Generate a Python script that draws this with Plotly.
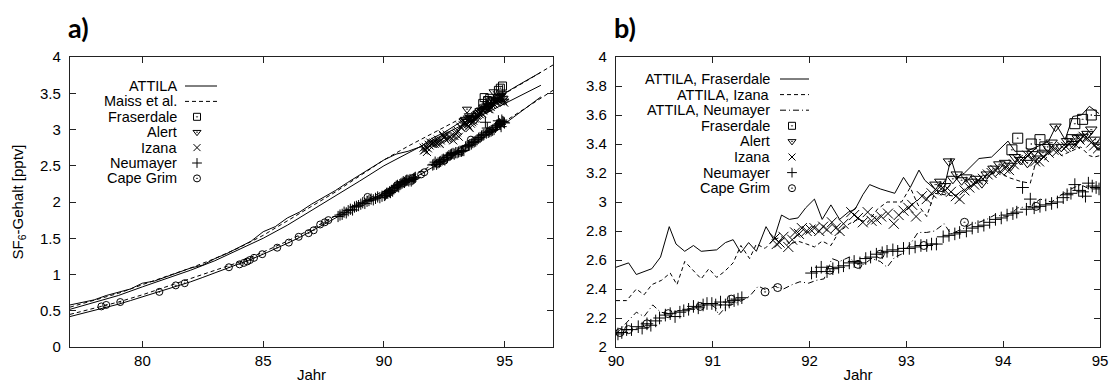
import plotly.graph_objects as go

# ---------------- Panel a: model curves ----------------
attila_nh_yr = [77.0, 77.5, 78.0, 78.5, 79.0, 79.5, 80.0, 80.5, 81.0, 81.5, 82.0, 82.5, 83.0, 83.5,
                84.0, 84.5, 85.0, 85.5, 86.0, 86.5, 87.0, 87.5, 88.0, 88.5, 89.0, 89.5, 90.0, 90.5,
                91.0, 91.5, 92.0, 92.5, 93.0, 93.5, 94.0, 94.5, 95.0, 95.5, 96.0, 96.5]
attila_nh_val = [0.58, 0.62, 0.65, 0.71, 0.76, 0.80, 0.88, 0.91, 0.97, 1.03, 1.09, 1.13, 1.22, 1.29,
                 1.38, 1.46, 1.59, 1.66, 1.78, 1.86, 1.97, 2.06, 2.16, 2.27, 2.37, 2.47, 2.58, 2.66,
                 2.70, 2.76, 2.88, 2.96, 3.07, 3.17, 3.28, 3.38, 3.50, 3.60, 3.70, 3.79]
maiss_nh_yr = [77, 78, 79, 80, 81, 82, 83, 84, 85, 86, 87, 88, 89, 90, 91, 92, 93, 94, 95, 96, 97]
maiss_nh_val = [0.55, 0.64, 0.74, 0.86, 0.97, 1.09, 1.22, 1.37, 1.54, 1.74, 1.94, 2.14, 2.36, 2.58,
                2.77, 2.94, 3.12, 3.30, 3.49, 3.69, 3.89]
attila_mid_yr = [77, 78, 79, 80, 81, 82, 83, 84, 85, 86, 87, 88, 89, 90, 91, 92, 93, 94, 95, 96, 96.5]
attila_mid_val = [0.52, 0.61, 0.71, 0.83, 0.94, 1.06, 1.19, 1.34, 1.50, 1.68, 1.88, 2.08, 2.29, 2.50,
                  2.68, 2.85, 3.02, 3.19, 3.36, 3.53, 3.61]
maiss_sh_yr = [77, 78, 79, 80, 81, 82, 83, 84, 85, 86, 87, 88, 89, 90, 91, 92, 93, 94, 95, 96, 97]
maiss_sh_val = [0.45, 0.53, 0.62, 0.72, 0.83, 0.94, 1.05, 1.17, 1.31, 1.46, 1.63, 1.81, 1.99, 2.15,
                2.32, 2.51, 2.70, 2.90, 3.11, 3.32, 3.54]
attila_sh_yr = [77.0, 77.5, 78.0, 78.5, 79.0, 79.5, 80.0, 80.5, 81.0, 81.5, 82.0, 82.5, 83.0, 83.5,
                84.0, 84.5, 85.0, 85.5, 86.0, 86.5, 87.0, 87.5, 88.0, 88.5, 89.0, 89.5, 90.0, 90.5,
                91.0, 91.5, 92.0, 92.5, 93.0, 93.5, 94.0, 94.5, 95.0, 95.5, 96.0, 96.5]
attila_sh_val = [0.42, 0.46, 0.50, 0.55, 0.59, 0.64, 0.69, 0.74, 0.79, 0.85, 0.90, 0.96, 1.02, 1.08,
                 1.14, 1.21, 1.28, 1.35, 1.43, 1.51, 1.60, 1.68, 1.78, 1.87, 1.97, 2.04, 2.12, 2.20,
                 2.28, 2.38, 2.48, 2.57, 2.66, 2.76, 2.87, 2.97, 3.08, 3.20, 3.32, 3.45]

# ---------------- Panel b: model curves ----------------
attila_fra_yr = [90.0, 90.13, 90.21, 90.37, 90.46, 90.55, 90.62, 90.71, 90.80, 90.88, 91.04, 91.13,
                 91.21, 91.29, 91.37, 91.45, 91.55, 91.63, 91.71, 91.79, 91.88, 91.96, 92.05, 92.13,
                 92.22, 92.31, 92.40, 92.47, 92.55, 92.62, 92.73, 92.88, 92.97, 93.04, 93.13, 93.19,
                 93.31, 93.38, 93.46, 93.52, 93.60, 93.75, 93.88, 94.05, 94.12, 94.24, 94.38, 94.47,
                 94.55, 94.64, 94.72, 94.81, 94.89, 94.99]
attila_fra_val = [2.55, 2.58, 2.50, 2.54, 2.62, 2.83, 2.71, 2.66, 2.70, 2.66, 2.67, 2.72,
                  2.74, 2.65, 2.72, 2.66, 2.83, 2.74, 2.91, 2.88, 2.89, 2.96, 3.02, 2.88,
                  2.98, 2.88, 2.93, 2.95, 3.05, 3.12, 3.09, 3.06, 3.17, 3.10, 3.22, 3.15,
                  3.08, 3.07, 3.30, 3.17, 3.20, 3.30, 3.31, 3.42, 3.35, 3.35, 3.39, 3.42,
                  3.53, 3.43, 3.59, 3.60, 3.66, 3.61]
attila_iza_yr = [90.0, 90.11, 90.21, 90.29, 90.37, 90.47, 90.56, 90.63, 90.71, 90.80, 90.88, 90.96,
                 91.04, 91.12, 91.21, 91.29, 91.38, 91.45, 91.54, 91.63, 91.71, 91.80, 91.88, 91.97,
                 92.05, 92.13, 92.22, 92.30, 92.41, 92.50, 92.60, 92.70, 92.80, 92.95, 93.04, 93.12,
                 93.21, 93.29, 93.40, 93.50, 93.60, 93.70, 93.80, 93.96, 94.05, 94.19, 94.28, 94.35,
                 94.43, 94.53, 94.60, 94.70, 94.80, 94.89, 94.94, 95.0]
attila_iza_val = [2.32, 2.32, 2.40, 2.36, 2.43, 2.46, 2.51, 2.43, 2.59, 2.53, 2.47, 2.54,
                  2.48, 2.52, 2.58, 2.70, 2.61, 2.71, 2.68, 2.74, 2.76, 2.71, 2.73, 2.71,
                  2.69, 2.73, 2.70, 2.79, 2.85, 2.88, 2.86, 2.95, 3.00, 3.00, 3.10, 2.98,
                  2.90, 3.06, 3.05, 3.04, 3.09, 3.12, 3.18, 3.21, 3.17, 3.14, 3.13, 3.31,
                  3.29, 3.39, 3.32, 3.35, 3.38, 3.32, 3.31, 3.32]
attila_neu_yr = [90.0, 90.11, 90.21, 90.29, 90.38, 90.46, 90.56, 90.64, 90.72, 90.80, 90.88, 90.96,
                 91.03, 91.06, 91.14, 91.23, 91.30, 91.38, 91.47, 91.56, 91.64, 91.73, 91.82, 91.90,
                 91.99, 92.07, 92.15, 92.23, 92.31, 92.41, 92.47, 92.56, 92.64, 92.73, 92.80, 92.88,
                 92.95, 93.04, 93.12, 93.21, 93.29, 93.39, 93.46, 93.53, 93.60, 93.68, 93.75, 93.83,
                 93.91, 94.05, 94.15, 94.29, 94.38, 94.50, 94.60, 94.70, 94.80, 94.89, 95.0]
attila_neu_val = [2.09, 2.17, 2.24, 2.21, 2.29, 2.24, 2.23, 2.25, 2.26, 2.27, 2.28, 2.30,
                  2.27, 2.22, 2.28, 2.30, 2.32, 2.35, 2.42, 2.39, 2.42, 2.40, 2.43, 2.45,
                  2.44, 2.46, 2.47, 2.61, 2.59, 2.62, 2.58, 2.57, 2.61, 2.59, 2.55, 2.62,
                  2.64, 2.71, 2.79, 2.79, 2.80, 2.85, 2.78, 2.80, 2.82, 2.85, 2.86, 2.88,
                  2.91, 2.90, 2.96, 2.97, 3.02, 3.00, 3.05, 3.09, 3.12, 3.09, 3.10]

# ---------------- Observations ----------------
fraserdale_yr = [94.09, 94.15, 94.29, 94.38, 94.43, 94.71, 94.74, 94.82, 94.91]
fraserdale_val = [3.36, 3.44, 3.40, 3.43, 3.38, 3.43, 3.54, 3.57, 3.60]

alert_yr = [93.30, 93.35, 93.40, 93.44, 93.48, 93.52, 93.57, 93.62, 93.67, 93.72, 93.78, 93.83,
            93.90, 93.96, 94.02, 94.08, 94.12, 94.18, 94.25, 94.30, 94.36, 94.41, 94.46, 94.50,
            94.54, 94.60, 94.66, 94.72, 94.77, 94.82, 94.87, 94.91, 94.95, 94.98]
alert_val = [3.12, 3.14, 3.11, 3.28, 3.16, 3.19, 3.15, 3.17, 3.14, 3.16, 3.13, 3.19,
             3.23, 3.26, 3.27, 3.25, 3.31, 3.29, 3.27, 3.33, 3.30, 3.34, 3.38, 3.41,
             3.52, 3.38, 3.42, 3.40, 3.44, 3.45, 3.47, 3.50, 3.43, 3.39]

izana_yr = [91.64, 91.66, 91.69, 91.73, 91.78, 91.82, 91.85, 91.89, 91.92, 91.97, 92.01, 92.05,
            92.10, 92.14, 92.18, 92.23, 92.27, 92.31, 92.35, 92.43, 92.46, 92.50, 92.55, 92.60,
            92.64, 92.69, 92.74, 92.81, 92.87, 92.92, 92.97, 93.02, 93.06, 93.10, 93.16, 93.21,
            93.26, 93.31, 93.36, 93.40, 93.46, 93.51, 93.55, 93.60, 93.65, 93.70, 93.74, 93.79,
            93.84, 93.88, 93.92, 93.97, 94.02, 94.06, 94.11, 94.15, 94.20, 94.25, 94.29, 94.33,
            94.37, 94.42, 94.47, 94.52, 94.56, 94.61, 94.65, 94.70, 94.74, 94.79, 94.83, 94.87,
            94.91, 94.94, 94.98]
izana_val = [2.75, 2.71, 2.72, 2.76, 2.69, 2.74, 2.79, 2.78, 2.82, 2.80, 2.81, 2.82,
             2.80, 2.83, 2.81, 2.86, 2.82, 2.80, 2.85, 2.93, 2.91, 2.89, 2.86, 2.93,
             2.87, 2.88, 2.90, 2.92, 2.85, 2.91, 2.94, 2.96, 2.98, 2.90, 3.04, 3.02,
             3.06, 3.08, 3.09, 3.08, 3.07, 3.04, 3.02, 3.08, 3.10, 3.12, 3.15, 3.16,
             3.19, 3.20, 3.22, 3.21, 3.23, 3.22, 3.26, 3.29, 3.30, 3.32, 3.34, 3.28,
             3.28, 3.31, 3.34, 3.36, 3.35, 3.38, 3.38, 3.41, 3.40, 3.43, 3.45, 3.44,
             3.41, 3.39, 3.37]

neumayer_early_yr = [88.10, 88.18, 88.27, 88.35, 88.44, 88.52, 88.61, 88.70, 88.78, 88.86, 88.95,
                     89.04, 89.12, 89.21, 89.30, 89.38, 89.47, 89.56, 89.65, 89.74, 89.83, 89.92]
neumayer_early_val = [1.80, 1.82, 1.83, 1.86, 1.85, 1.88, 1.90, 1.89, 1.93, 1.94, 1.95,
                      1.97, 1.99, 1.98, 2.01, 2.02, 2.04, 2.03, 2.05, 2.07, 2.06, 2.08]
neumayer_yr = [90.02, 90.06, 90.11, 90.16, 90.23, 90.27, 90.32, 90.36, 90.41, 90.45, 90.51, 90.56,
               90.61, 90.66, 90.70, 90.75, 90.80, 90.85, 90.90, 90.94, 90.99, 91.03, 91.08, 91.13,
               91.17, 91.22, 91.26, 91.30,
               92.02, 92.07, 92.12, 92.18, 92.24, 92.30, 92.35, 92.41, 92.46, 92.52, 92.58, 92.63,
               92.69, 92.75, 92.80, 92.86, 92.91, 92.97, 93.03, 93.09, 93.15, 93.21, 93.26, 93.31,
               93.38, 93.44, 93.50, 93.55, 93.62, 93.68, 93.74, 93.80, 93.86, 93.92, 93.98, 94.04,
               94.10, 94.14, 94.20, 94.24, 94.28, 94.32, 94.38, 94.44, 94.50, 94.56, 94.62, 94.66,
               94.70, 94.74, 94.78, 94.82, 94.85, 94.88, 94.92, 94.96, 94.99]
neumayer_val = [2.09, 2.10, 2.12, 2.12, 2.14, 2.13, 2.16, 2.15, 2.18, 2.20, 2.22, 2.23,
                2.21, 2.24, 2.25, 2.26, 2.28, 2.27, 2.29, 2.30, 2.30, 2.29, 2.31, 2.29,
                2.31, 2.32, 2.33, 2.34,
                2.51, 2.52, 2.55, 2.52, 2.54, 2.55, 2.56, 2.58, 2.59, 2.58, 2.61, 2.62,
                2.64, 2.65, 2.66, 2.67, 2.66, 2.68, 2.68, 2.69, 2.70, 2.70, 2.71, 2.71,
                2.76, 2.77, 2.78, 2.79, 2.80, 2.82, 2.83, 2.84, 2.86, 2.88, 2.89, 2.91,
                2.92, 2.93, 3.10, 2.95, 3.02, 2.96, 2.97, 2.98, 2.99, 3.00, 3.03, 3.05,
                3.06, 3.12, 3.08, 3.07, 3.04, 3.13, 3.11, 3.10, 3.09]

capegrim_early_yr = [78.30, 78.50, 79.08, 80.70, 81.38, 81.75, 83.58, 84.02, 84.20, 84.34, 84.45,
                     84.62, 84.96, 85.58, 86.06, 86.47, 86.88, 87.09, 87.36, 87.55, 87.70, 89.32]
capegrim_early_val = [0.56, 0.58, 0.62, 0.76, 0.85, 0.88, 1.10, 1.14, 1.16, 1.18, 1.20,
                      1.23, 1.28, 1.37, 1.44, 1.52, 1.57, 1.61, 1.69, 1.72, 1.75, 2.07]
capegrim_yr = [90.04, 90.13, 90.32, 90.54, 90.87, 91.19, 91.54, 91.67, 92.21, 92.50, 92.73,
               93.18, 93.60, 94.34]
capegrim_val = [2.10, 2.12, 2.16, 2.23, 2.28, 2.33, 2.38, 2.41, 2.53, 2.57, 2.64,
                2.70, 2.86, 2.97]

# ---------------- Tick labels ----------------
xticks_a = [80, 85, 90, 95]
yticks_a = [0, 0.5, 1, 1.5, 2, 2.5, 3, 3.5, 4]
xticks_b = [90, 91, 92, 93, 94, 95]
yticks_b = [2, 2.2, 2.4, 2.6, 2.8, 3, 3.2, 3.4, 3.6, 3.8, 4]

legend_a = ["ATTILA", "Maiss et al.", "Fraserdale", "Alert", "Izana", "Neumayer", "Cape Grim"]
legend_b = ["ATTILA, Fraserdale", "ATTILA, Izana", "ATTILA, Neumayer", "Fraserdale", "Alert",
            "Izana", "Neumayer", "Cape Grim"]

# ---------------- Styling ----------------
FONT = "Liberation Sans"
BLACK = "black"
DASH = "4px,3px"
DASHDOT = "6px,3px,1px,3px"
SYM = {"Fraserdale": "square-open-dot", "Alert": "triangle-down-open-dot",
       "Izana": "x-thin-open", "Neumayer": "cross-thin-open", "Cape Grim": "circle-open-dot"}

fig = go.Figure()


def line(x, y, dash, xa, ya):
    fig.add_trace(go.Scatter(x=x, y=y, mode="lines", xaxis=xa, yaxis=ya, showlegend=False,
                             line=dict(color=BLACK, width=1, dash=dash), hoverinfo="skip"))


def pts(x, y, name, size, xa, ya):
    fig.add_trace(go.Scatter(x=x, y=y, mode="markers", xaxis=xa, yaxis=ya, showlegend=False,
                             marker=dict(symbol=SYM[name], size=size, color=BLACK,
                                         line=dict(color=BLACK, width=1)), name=name))


# panel a
line(attila_nh_yr, attila_nh_val, "solid", "x", "y")
line(maiss_nh_yr, maiss_nh_val, DASH, "x", "y")
line(attila_mid_yr, attila_mid_val, "solid", "x", "y")
line(maiss_sh_yr, maiss_sh_val, DASH, "x", "y")
line(attila_sh_yr, attila_sh_val, "solid", "x", "y")
pts(capegrim_early_yr + capegrim_yr, capegrim_early_val + capegrim_val, "Cape Grim", 7, "x", "y")
pts(neumayer_early_yr + neumayer_yr, neumayer_early_val + neumayer_val, "Neumayer", 8, "x", "y")
pts(izana_yr, izana_val, "Izana", 8, "x", "y")
pts(alert_yr, alert_val, "Alert", 8, "x", "y")
pts(fraserdale_yr, fraserdale_val, "Fraserdale", 8, "x", "y")

# panel b
line(attila_fra_yr, attila_fra_val, "solid", "x2", "y2")
line(attila_iza_yr, attila_iza_val, DASH, "x2", "y2")
line(attila_neu_yr, attila_neu_val, DASHDOT, "x2", "y2")
pts(capegrim_yr, capegrim_val, "Cape Grim", 8, "x2", "y2")
pts(neumayer_yr, neumayer_val, "Neumayer", 9, "x2", "y2")
pts(izana_yr, izana_val, "Izana", 10, "x2", "y2")
pts(alert_yr, alert_val, "Alert", 10, "x2", "y2")
pts(fraserdale_yr, fraserdale_val, "Fraserdale", 10, "x2", "y2")

# ---------------- custom legends (gnuplot style: text, then key) ----------------
annotations = []
L, R, T, B = 70, 14, 57, 41
W, H = 1114, 388
PW, PH = W - L - R, H - T - B


def px(xp):
    return (xp - L) / PW


def py(yp):
    return (H - B - yp) / PH


def legend(entries, styles, text_right, line_l, line_r, mark_x, y0, dy):
    for i, (name, st) in enumerate(zip(entries, styles)):
        yy = py(y0 + i * dy)
        annotations.append(dict(text=name, x=px(text_right), y=yy, xref="paper", yref="paper",
                                xanchor="right", yanchor="middle", showarrow=False,
                                borderpad=0,
                                font=dict(family=FONT, size=14.5, color=BLACK)))
        if st[0] == "line":
            fig.add_trace(go.Scatter(x=[px(line_l), px(line_r)], y=[yy, yy], mode="lines",
                                     xaxis="x3", yaxis="y3", showlegend=False, hoverinfo="skip",
                                     line=dict(color=BLACK, width=1, dash=st[1])))
        else:
            fig.add_trace(go.Scatter(x=[px(mark_x)], y=[yy], mode="markers",
                                     xaxis="x3", yaxis="y3", showlegend=False, hoverinfo="skip",
                                     marker=dict(symbol=SYM[st[1]], size=7, color=BLACK,
                                                 line=dict(color=BLACK, width=1))))


legend(legend_a, [("line", "solid"), ("line", DASH), ("m", "Fraserdale"), ("m", "Alert"),
                  ("m", "Izana"), ("m", "Neumayer"), ("m", "Cape Grim")],
       178, 185, 217, 197, 86, 15.4)
legend(legend_b, [("line", "solid"), ("line", DASH), ("line", DASHDOT), ("m", "Fraserdale"),
                  ("m", "Alert"), ("m", "Izana"), ("m", "Neumayer"), ("m", "Cape Grim")],
       771, 780, 809, 792, 79, 15.6)

annotations += [
    dict(text="<b>a)</b>", x=px(66), y=py(28), xref="paper", yref="paper", xanchor="left",
         yanchor="middle", showarrow=False, font=dict(family="Lato", size=27, color=BLACK)),
    dict(text="<b>b)</b>", x=px(612), y=py(28), xref="paper", yref="paper", xanchor="left",
         yanchor="middle", showarrow=False, font=dict(family="Lato", size=27, color=BLACK)),
]

ax_common = dict(showline=True, linecolor="#222", linewidth=1.3, mirror="allticks",
                 ticks="inside", ticklen=6, tickwidth=1, tickcolor="#222", showgrid=False,
                 zeroline=False, automargin=False,
                 tickfont=dict(family=FONT, size=15, color=BLACK))

dom_a = [0, (553 - L) / PW]
dom_b = [(616 - L) / PW, 1]

fig.update_layout(
    width=W, height=H, margin=dict(l=L, r=R, t=T, b=B),
    paper_bgcolor="white", plot_bgcolor="rgba(0,0,0,0)",
    font=dict(family=FONT, size=15, color=BLACK),
    showlegend=False, annotations=annotations,
    xaxis=dict(domain=dom_a, range=[77, 97], tickvals=xticks_a, anchor="y",
               title=dict(text="Jahr", font=dict(size=15), standoff=1), ticklabelstandoff=0, **ax_common),
    yaxis=dict(domain=[0, 1], range=[0, 4], tickvals=yticks_a, anchor="x",
               tickformat="~g", ticklabelstandoff=5,
               title=dict(text="SF<sub>6</sub>-Gehalt [pptv]", font=dict(size=15), standoff=12),
               **ax_common),
    xaxis2=dict(domain=dom_b, range=[90, 95], tickvals=xticks_b, anchor="y2",
                title=dict(text="Jahr", font=dict(size=15), standoff=1), ticklabelstandoff=0, **ax_common),
    yaxis2=dict(domain=[0, 1], range=[2, 4], tickvals=yticks_b, anchor="x2",
                tickformat="~g", ticklabelstandoff=5, **ax_common),
    xaxis3=dict(domain=[0, 1], range=[0, 1], visible=False, anchor="y3", fixedrange=True),
    yaxis3=dict(domain=[0, 1], range=[0, 1], visible=False, anchor="x3", fixedrange=True),
)

fig.write_html("out.html")
